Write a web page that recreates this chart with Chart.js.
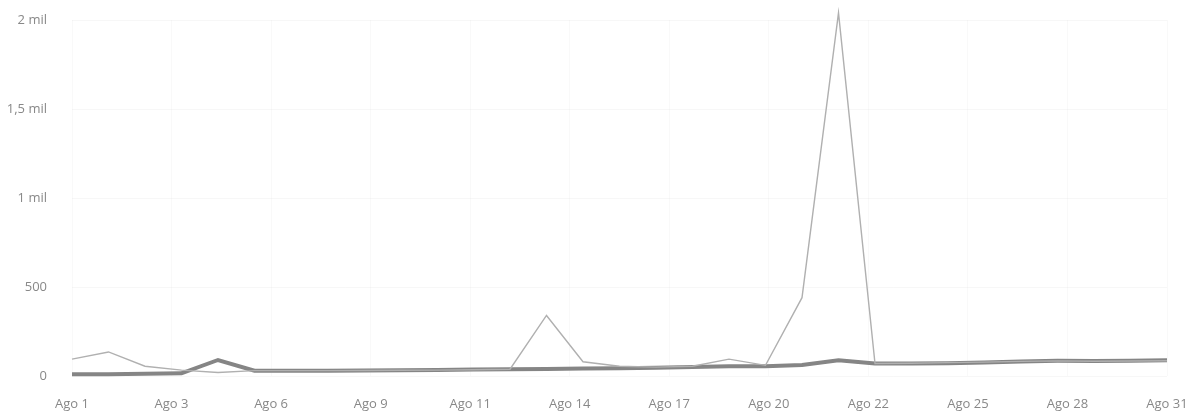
<!DOCTYPE html>
<html>
<head>
<meta charset="utf-8">
<script src="https://cdn.jsdelivr.net/npm/chart.js@4"></script>
<style>
  html, body { margin: 0; padding: 0; background: #ffffff; }
  #wrap { position: relative; width: 1195px; height: 415px; }
</style>
</head>
<body>
<div id="wrap"><canvas id="c"></canvas></div>
<script>
const days = [1,2,3,4,5,6,7,8,9,10,11,12,13,14,15,16,17,18,19,20,21,22,23,24,25,26,27,28,29,30,31];
const seriesLight = [95,135,55,33,20,30,30,30,31,32,33,35,38,340,80,55,50,55,95,60,440,2040,70,72,75,78,82,85,83,84,86];
const seriesDark  = [10,10,12,15,90,30,30,30,31,32,34,36,38,40,42,44,46,50,55,55,62,88,70,70,72,76,82,85,84,86,88];
const xTickLabels = ['Ago 1','Ago 3','Ago 6','Ago 9','Ago 11','Ago 14','Ago 17','Ago 20','Ago 22','Ago 25','Ago 28','Ago 31'];
const yTickLabels = ['0','500','1 mil','1,5 mil','2 mil'];
const yStep = 500;

const toPts = arr => arr.map((v, i) => ({ x: days[i], y: v }));
const xMin = days[0], xMax = days[days.length - 1];

new Chart(document.getElementById('c'), {
  type: 'line',
  data: {
    datasets: [
      {
        label: 'A',
        data: toPts(seriesLight),
        borderColor: '#b0b0b0',
        borderWidth: 1.4,
        pointRadius: 0,
        tension: 0,
        clip: false
      },
      {
        label: 'B',
        data: toPts(seriesDark),
        borderColor: '#858585',
        borderWidth: 4,
        pointRadius: 0,
        tension: 0,
        clip: false
      }
    ]
  },
  options: {
    responsive: true,
    maintainAspectRatio: false,
    animation: false,
    layout: { padding: { top: 20, right: 28, bottom: 0, left: 0 } },
    plugins: { legend: { display: false }, tooltip: { enabled: false } },
    scales: {
      x: {
        type: 'linear',
        min: xMin,
        max: xMax,
        border: { display: false },
        grid: { color: 'rgba(0,0,0,0.025)', drawTicks: false },
        afterBuildTicks: scale => {
          const n = xTickLabels.length;
          scale.ticks = xTickLabels.map((_, i) => ({ value: xMin + i * (xMax - xMin) / (n - 1) }));
        },
        afterFit: scale => { scale.height = 39; scale.paddingLeft = 0; scale.paddingRight = 0; },
        ticks: {
          autoSkip: false,
          maxRotation: 0,
          padding: 20,
          color: '#888888',
          font: { family: 'Open Sans', size: 13 },
          callback: (v, i) => xTickLabels[i]
        }
      },
      y: {
        min: 0,
        max: 2000,
        border: { display: false },
        grid: { color: 'rgba(0,0,0,0.03)', drawTicks: false },
        afterFit: scale => { scale.width = 72; scale.paddingTop = 0; scale.paddingBottom = 0; },
        ticks: {
          stepSize: yStep,
          padding: 25,
          color: '#888888',
          font: { family: 'Open Sans', size: 13 },
          callback: v => yTickLabels[Math.round(v / yStep)]
        }
      }
    }
  }
});
</script>
</body>
</html>
